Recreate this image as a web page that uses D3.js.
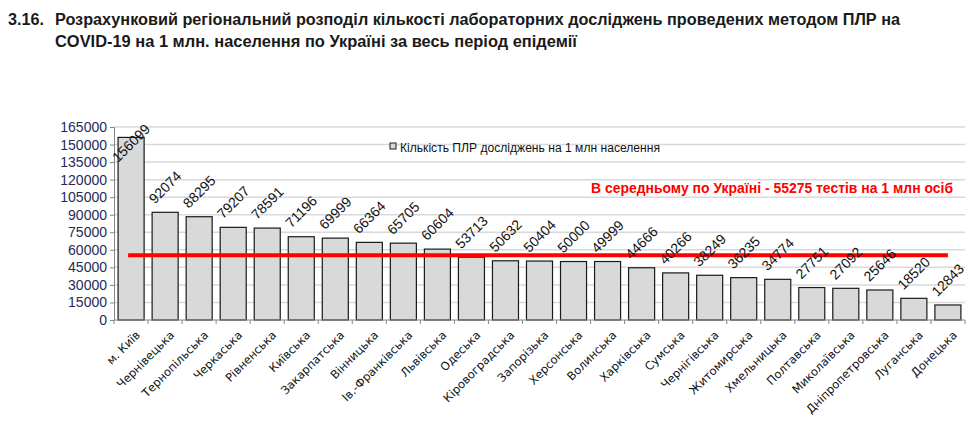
<!DOCTYPE html>
<html><head><meta charset="utf-8">
<script src="https://cdn.jsdelivr.net/npm/d3@7/dist/d3.min.js"></script>
<style>
body{margin:0;background:#fff;}
svg{display:block;}
</style></head>
<body>
<svg id="chart" width="974" height="439"></svg>
<script>
const categories = ["м. Київ","Чернівецька","Тернопільська","Черкаська","Рівненська","Київська","Закарпатська","Вінницька","Ів.-Франківська","Львівська","Одеська","Кіровоградська","Запорізька","Херсонська","Волинська","Харківська","Сумська","Чернігівська","Житомирська","Хмельницька","Полтавська","Миколаївська","Дніпропетровська","Луганська","Донецька"];
const values = [156099,92074,88295,79207,78591,71196,69999,66364,65705,60604,53713,50632,50404,50000,49999,44666,40266,38249,36235,34774,27751,27092,25646,18520,12843];
const average = 55275;
const yTicks = [0,15000,30000,45000,60000,75000,90000,105000,120000,135000,150000,165000];
const titleNum = "3.16.";
const titleLines = ["Розрахунковий регіональний розподіл кількості лабораторних досліджень проведених методом ПЛР на","COVID-19 на 1 млн. населення по Україні за весь період епідемії"];
const legendLabel = "Кількість ПЛР досліджень на 1 млн населення";
const avgLabel = "В середньому по Україні - 55275 тестів на 1 млн осіб";

const svg = d3.select("#chart");
const L = 114, R = 965, T = 127, B = 320;
const x = d3.scaleBand().domain(categories).range([L, R]).paddingInner(0.235).paddingOuter(0.12);
const y = d3.scaleLinear().domain([0, 165000]).range([B, T]);
const band = (R - L) / categories.length;

// title
const tf = "'Liberation Sans', Arial, sans-serif";
svg.append("text").attr("x", 8).attr("y", 25).attr("font-family", tf).attr("font-weight", "bold")
  .attr("font-size", 16).attr("fill", "#1a1a1a").attr("textLength", 36).attr("lengthAdjust", "spacingAndGlyphs").text(titleNum);
svg.append("text").attr("x", 55).attr("y", 25).attr("font-family", tf).attr("font-weight", "bold")
  .attr("font-size", 16).attr("fill", "#1a1a1a").attr("textLength", 845).attr("lengthAdjust", "spacingAndGlyphs").text(titleLines[0]);
svg.append("text").attr("x", 55).attr("y", 47).attr("font-family", tf).attr("font-weight", "bold")
  .attr("font-size", 16).attr("fill", "#1a1a1a").attr("textLength", 522).attr("lengthAdjust", "spacingAndGlyphs").text(titleLines[1]);

// gridlines
svg.append("g").selectAll("line").data(yTicks.filter(d => d > 0)).join("line")
  .attr("x1", L).attr("x2", R).attr("y1", d => y(d)).attr("y2", d => y(d))
  .attr("stroke", "#d9d9d9").attr("stroke-width", 1.5);

// y axis
const yAxis = svg.append("g").attr("transform", `translate(${L},0)`)
  .call(d3.axisLeft(y).tickValues(yTicks).tickSize(4).tickPadding(3).tickFormat(d3.format("d")));
yAxis.select(".domain").attr("stroke", "#868686");
yAxis.selectAll(".tick line").attr("stroke", "#868686");
yAxis.selectAll("text").attr("font-family", tf).attr("font-size", 14).attr("fill", "#1f2a5c");

// bars
svg.append("g").selectAll("rect").data(values).join("rect")
  .attr("x", (d, i) => x(categories[i])).attr("width", x.bandwidth())
  .attr("y", d => y(d)).attr("height", d => B - y(d))
  .attr("fill", "#d9d9d9").attr("stroke", "#1a1a1a").attr("stroke-width", 1.2);

// x axis
svg.append("line").attr("x1", L).attr("x2", R).attr("y1", B).attr("y2", B).attr("stroke", "#868686").attr("stroke-width", 1);
svg.append("g").selectAll("line").data(d3.range(categories.length + 1)).join("line")
  .attr("x1", i => L + i * band).attr("x2", i => L + i * band).attr("y1", B).attr("y2", B + 4)
  .attr("stroke", "#868686");

svg.append("g").selectAll("text").data(categories).join("text")
  .attr("transform", d => `translate(${x(d) + x.bandwidth() / 2 + 4},${B + 10}) rotate(-45)`)
  .attr("text-anchor", "end").attr("dy", "0.71em")
  .attr("font-family", "'DejaVu Sans', Verdana, sans-serif").attr("font-size", 11.5).attr("fill", "#111")
  .text(d => d);

// average line
svg.append("line")
  .attr("x1", x(categories[0]) + x.bandwidth() / 2 - 3)
  .attr("x2", x(categories[categories.length - 1]) + x.bandwidth() / 2)
  .attr("y1", y(average)).attr("y2", y(average))
  .attr("stroke", "#ff0000").attr("stroke-width", 4);

// value labels
svg.append("g").selectAll("text").data(values).join("text")
  .attr("transform", (d, i) => `translate(${x(categories[i]) + x.bandwidth() / 2},${Math.max(y(d) - 25, 143)}) rotate(-45)`)
  .attr("text-anchor", "middle").attr("dy", "0.35em")
  .attr("font-family", tf).attr("font-size", 14).attr("fill", "#111")
  .text(d => d);

// legend
svg.append("rect").attr("x", 390).attr("y", 143).attr("width", 6).attr("height", 6)
  .attr("fill", "#d9d9d9").attr("stroke", "#1a1a1a").attr("stroke-width", 1);
svg.append("text").attr("x", 400).attr("y", 151.5).attr("font-family", tf).attr("font-size", 12.5)
  .attr("fill", "#111").attr("textLength", 260).attr("lengthAdjust", "spacingAndGlyphs").text(legendLabel);

// average annotation
svg.append("text").attr("x", 591).attr("y", 193).attr("font-family", tf).attr("font-weight", "bold")
  .attr("font-size", 14).attr("fill", "#ff0000").attr("textLength", 362).attr("lengthAdjust", "spacingAndGlyphs").text(avgLabel);
</script>
</body></html>
